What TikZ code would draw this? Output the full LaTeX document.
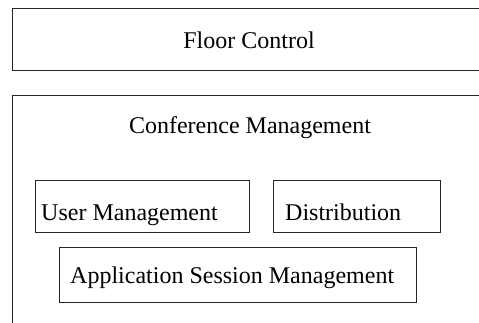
\documentclass[tikz,border=0pt]{standalone}
\usepackage{fontspec}
\setmainfont{Liberation Serif}
\begin{document}
\begin{tikzpicture}[x=1pt,y=-1pt,
  box/.style={draw=black!85,line width=1.3pt},
  lbl/.style={inner sep=0pt,font=\fontsize{24}{28}\selectfont}]
\useasboundingbox (0,0) rectangle (479,322);
\clip (0,0) rectangle (479,322);
% outer boxes
\node[box,anchor=north west,minimum width=480pt,minimum height=62pt,inner sep=0pt] (floor) at (12,7.5) {};
\node[box,anchor=north west,minimum width=480pt,minimum height=240pt,inner sep=0pt] (conf) at (12,95) {};
% inner boxes
\node[box,anchor=north west,minimum width=214pt,minimum height=52pt,inner sep=0pt] (user) at (35,180) {};
\node[box,anchor=north west,minimum width=167pt,minimum height=52pt,inner sep=0pt] (dist) at (273,180) {};
\node[box,anchor=north west,minimum width=357pt,minimum height=55pt,inner sep=0pt] (app) at (59,247) {};
% labels
\node[lbl,anchor=base] (floort) at (249,48) {Floor Control};
\node[lbl,anchor=base] (conft) at (250,133) {Conference Management};
\node[lbl,anchor=base west] (usert) at (41,220) {User Management};
\node[lbl,anchor=base west] (distt) at (285,220) {Distribution};
\node[lbl,anchor=base west] (appt) at (70,283) {Application Session Management};
\end{tikzpicture}
\end{document}
